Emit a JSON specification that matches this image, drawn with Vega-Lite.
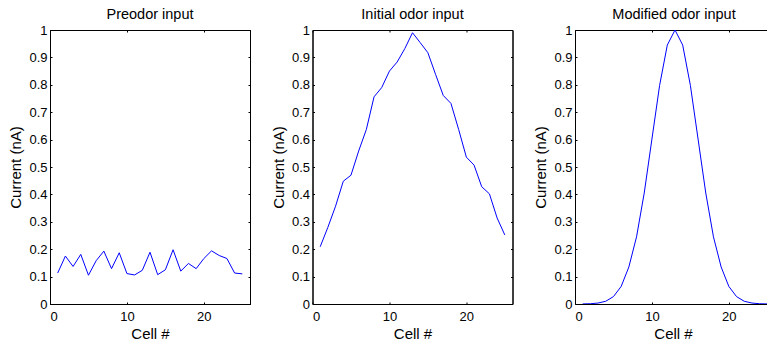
{
  "$schema": "https://vega.github.io/schema/vega-lite/v6.json",
  "padding": {"left": 8, "top": 6, "right": 0, "bottom": 0},
  "background": "white",
  "datasets": {
    "pre": [
      {"cell": 1, "current": 0.113}, {"cell": 2, "current": 0.175}, {"cell": 3, "current": 0.137},
      {"cell": 4, "current": 0.181}, {"cell": 5, "current": 0.105}, {"cell": 6, "current": 0.158},
      {"cell": 7, "current": 0.193}, {"cell": 8, "current": 0.129}, {"cell": 9, "current": 0.187},
      {"cell": 10, "current": 0.111}, {"cell": 11, "current": 0.106}, {"cell": 12, "current": 0.123},
      {"cell": 13, "current": 0.189}, {"cell": 14, "current": 0.107}, {"cell": 15, "current": 0.125},
      {"cell": 16, "current": 0.198}, {"cell": 17, "current": 0.120}, {"cell": 18, "current": 0.148},
      {"cell": 19, "current": 0.129}, {"cell": 20, "current": 0.166}, {"cell": 21, "current": 0.194},
      {"cell": 22, "current": 0.177}, {"cell": 23, "current": 0.166}, {"cell": 24, "current": 0.113},
      {"cell": 25, "current": 0.110}
    ],
    "init": [
      {"cell": 1, "current": 0.209}, {"cell": 2, "current": 0.280}, {"cell": 3, "current": 0.357},
      {"cell": 4, "current": 0.448}, {"cell": 5, "current": 0.470}, {"cell": 6, "current": 0.558},
      {"cell": 7, "current": 0.637}, {"cell": 8, "current": 0.756}, {"cell": 9, "current": 0.790},
      {"cell": 10, "current": 0.850}, {"cell": 11, "current": 0.883}, {"cell": 12, "current": 0.932},
      {"cell": 13, "current": 0.990}, {"cell": 14, "current": 0.954}, {"cell": 15, "current": 0.917},
      {"cell": 16, "current": 0.838}, {"cell": 17, "current": 0.761}, {"cell": 18, "current": 0.732},
      {"cell": 19, "current": 0.637}, {"cell": 20, "current": 0.536}, {"cell": 21, "current": 0.507},
      {"cell": 22, "current": 0.428}, {"cell": 23, "current": 0.402}, {"cell": 24, "current": 0.314},
      {"cell": 25, "current": 0.252}
    ],
    "mod": [
      {"cell": 1, "current": 0.0003}, {"cell": 2, "current": 0.001}, {"cell": 3, "current": 0.0035},
      {"cell": 4, "current": 0.010}, {"cell": 5, "current": 0.027}, {"cell": 6, "current": 0.064},
      {"cell": 7, "current": 0.135}, {"cell": 8, "current": 0.245}, {"cell": 9, "current": 0.405},
      {"cell": 10, "current": 0.602}, {"cell": 11, "current": 0.798}, {"cell": 12, "current": 0.945},
      {"cell": 13, "current": 1.0}, {"cell": 14, "current": 0.945}, {"cell": 15, "current": 0.798},
      {"cell": 16, "current": 0.602}, {"cell": 17, "current": 0.405}, {"cell": 18, "current": 0.245},
      {"cell": 19, "current": 0.135}, {"cell": 20, "current": 0.064}, {"cell": 21, "current": 0.027},
      {"cell": 22, "current": 0.010}, {"cell": 23, "current": 0.0035}, {"cell": 24, "current": 0.001},
      {"cell": 25, "current": 0.0003}
    ]
  },
  "hconcat": [
    {
      "title": "Preodor input",
      "width": 200, "height": 274,
      "data": {"name": "pre"},
      "layer": [
        {
          "mark": {"type": "line", "color": "#0000ff", "strokeWidth": 1},
          "encoding": {
            "x": {"field": "cell", "type": "quantitative", "scale": {"domain": [0, 26], "nice": false}, "axis": {"orient": "bottom", "values": [0, 10, 20], "title": "Cell #"}},
            "y": {"field": "current", "type": "quantitative", "scale": {"domain": [0, 1], "nice": false}, "axis": {"orient": "left", "values": [0, 0.1, 0.2, 0.3, 0.4, 0.5, 0.6, 0.7, 0.8, 0.9, 1], "format": "~g", "title": "Current (nA)"}}
          }
        },
        {
          "mark": {"type": "line", "opacity": 0},
          "encoding": {
            "x": {"field": "cell", "type": "quantitative", "axis": {"orient": "top", "values": [0, 10, 20], "labels": false, "title": null}},
            "y": {"field": "current", "type": "quantitative", "axis": {"orient": "right", "values": [0, 0.1, 0.2, 0.3, 0.4, 0.5, 0.6, 0.7, 0.8, 0.9, 1], "labels": false, "title": null}}
          }
        }
      ],
      "resolve": {"axis": {"x": "independent", "y": "independent"}}
    },
    {
      "title": "Initial odor input",
      "width": 200, "height": 274,
      "data": {"name": "init"},
      "layer": [
        {
          "mark": {"type": "line", "color": "#0000ff", "strokeWidth": 1},
          "encoding": {
            "x": {"field": "cell", "type": "quantitative", "scale": {"domain": [0, 26], "nice": false}, "axis": {"orient": "bottom", "values": [0, 10, 20], "title": "Cell #"}},
            "y": {"field": "current", "type": "quantitative", "scale": {"domain": [0, 1], "nice": false}, "axis": {"orient": "left", "values": [0, 0.1, 0.2, 0.3, 0.4, 0.5, 0.6, 0.7, 0.8, 0.9, 1], "format": "~g", "title": "Current (nA)"}}
          }
        },
        {
          "mark": {"type": "line", "opacity": 0},
          "encoding": {
            "x": {"field": "cell", "type": "quantitative", "axis": {"orient": "top", "values": [0, 10, 20], "labels": false, "title": null}},
            "y": {"field": "current", "type": "quantitative", "axis": {"orient": "right", "values": [0, 0.1, 0.2, 0.3, 0.4, 0.5, 0.6, 0.7, 0.8, 0.9, 1], "labels": false, "title": null}}
          }
        }
      ],
      "resolve": {"axis": {"x": "independent", "y": "independent"}}
    },
    {
      "title": {"text": "Modified odor input", "anchor": "middle", "dx": 2.5},
      "width": 193, "height": 274,
      "data": {"name": "mod"},
      "view": {"stroke": null},
      "layer": [
        {
          "mark": {"type": "line", "color": "#0000ff", "strokeWidth": 1, "clip": true},
          "encoding": {
            "x": {"field": "cell", "type": "quantitative", "scale": {"domain": [0, 25.09], "nice": false}, "axis": {"orient": "bottom", "values": [0, 10, 20], "title": "Cell #", "titleX": 98}},
            "y": {"field": "current", "type": "quantitative", "scale": {"domain": [0, 1], "nice": false}, "axis": {"orient": "left", "values": [0, 0.1, 0.2, 0.3, 0.4, 0.5, 0.6, 0.7, 0.8, 0.9, 1], "format": "~g", "title": "Current (nA)"}}
          }
        },
        {
          "mark": {"type": "line", "opacity": 0},
          "encoding": {
            "x": {"field": "cell", "type": "quantitative", "axis": {"orient": "top", "values": [0, 10, 20], "labels": false, "title": null}}
          }
        }
      ],
      "resolve": {"axis": {"x": "independent"}}
    }
  ],
  "spacing": 62.5,
  "bounds": "flush",
  "config": {
    "font": "Liberation Sans",
    "view": {"stroke": "#000000", "strokeWidth": 1},
    "title": {"fontSize": 14.5, "fontWeight": "normal", "color": "#000000", "font": "Liberation Sans", "offset": 2},
    "axis": {
      "grid": false,
      "domainColor": "#000000",
      "tickColor": "#000000",
      "tickSize": -2,
      "labelColor": "#000000",
      "labelFont": "Liberation Sans",
      "labelFontSize": 13,
      "titleColor": "#000000",
      "titleFont": "Liberation Sans",
      "titleFontSize": 15,
      "titleFontWeight": "normal"
    },
    "axisX": {"labelPadding": 8.4, "titlePadding": 3},
    "axisY": {"labelPadding": 5, "titlePadding": 5}
  }
}
